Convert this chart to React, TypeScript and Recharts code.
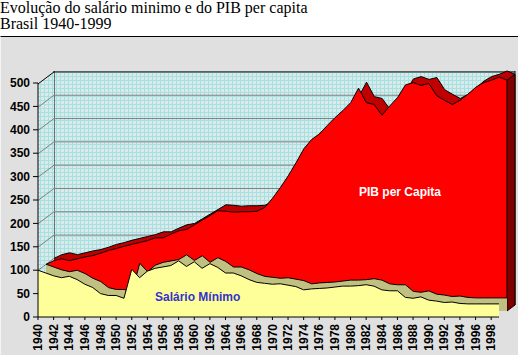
import React from 'react';
import { AreaChart, Area, XAxis, YAxis, CartesianGrid, ReferenceArea, ReferenceLine } from 'recharts';

const years = [
  1940, 1941, 1942, 1943, 1944, 1945, 1946, 1947, 1948, 1949,
  1950, 1951, 1952, 1953, 1954, 1955, 1956, 1957, 1958, 1959,
  1960, 1961, 1962, 1963, 1964, 1965, 1966, 1967, 1968, 1969,
  1970, 1971, 1972, 1973, 1974, 1975, 1976, 1977, 1978, 1979,
  1980, 1981, 1982, 1983, 1984, 1985, 1986, 1987, 1988, 1989,
  1990, 1991, 1992, 1993, 1994, 1995, 1996, 1997, 1998, 1999,
];

// índice 1940 = 100
const salarioMinimo = [
  100, 94, 88, 84, 87, 80, 70, 63, 50, 46,
  46, 40, 102, 84, 98, 104, 107, 110, 120, 108,
  118, 104, 114, 106, 94, 94, 88, 80, 74, 72,
  70, 71, 68, 65, 58, 60, 61, 62, 64, 66,
  66, 67, 69, 66, 58, 56, 56, 42, 40, 43,
  36, 34, 31, 32, 29, 28, 28, 28, 28, 28,
];

const pibPerCapita = [
  100, 108, 112, 108, 112, 116, 119, 124, 130, 134,
  139, 143, 147, 151, 157, 157, 165, 172, 175, 185,
  195, 205, 215, 214, 212, 213, 213, 214, 222, 242,
  265, 290, 318, 348, 368, 380, 398, 415, 430, 447,
  478, 447, 443, 420, 440, 458, 485, 490, 484, 488,
  462, 452, 443, 452, 465, 480, 490, 495, 502, 495,
];

const yTicks = [0, 50, 100, 150, 200, 250, 300, 350, 400, 450, 500];
const xTicks = [
  1940, 1942, 1944, 1946, 1948, 1950, 1952, 1954, 1956, 1958,
  1960, 1962, 1964, 1966, 1968, 1970, 1972, 1974, 1976, 1978,
  1980, 1982, 1984, 1986, 1988, 1990, 1992, 1994, 1996, 1998,
];

const data = years.map((year, i) => ({ year, salario: salarioMinimo[i], pib: pibPerCapita[i] }));

const W = 518;
const H = 355;
const MARGIN = { top: 83, right: 19, left: 38, bottom: 38 };
const WALL_MARGIN = { top: 83, right: 19, left: 0, bottom: 38 };
const PLOT_W = W - MARGIN.left - MARGIN.right;
const PLOT_H = H - MARGIN.top - MARGIN.bottom;
// 3D depth of the whole chart and of one series row
const DEPTH = { dx: 16, dy: -12 };
const HALF = { dx: 8, dy: -6 };
const SANS = '"Liberation Sans", Arial, sans-serif';

const hiddenAxes = () => [
  <XAxis key="x" dataKey="year" type="number" domain={[1940, 1999]} hide />,
  <YAxis key="y" type="number" domain={[0, 500]} ticks={yTicks} hide />,
];

// the wall layers get an empty series so the axes build their ticks
const ghostArea = () => (
  <Area type="linear" dataKey="pib" fill="none" stroke="none" dot={false} activeDot={false} isAnimationActive={false} />
);

const wallYAxis = (tick: any) => (
  <YAxis
    type="number"
    domain={[0, 500]}
    ticks={yTicks}
    interval={0}
    width={MARGIN.left}
    tickSize={0}
    tickMargin={0}
    axisLine={false}
    tickLine={false}
    tick={tick}
  />
);

// left wall, drawn from the top tick of the back plane
const SideWallTick = (props: any) => {
  const { x, y, payload } = props;
  if (payload.value !== 500) return <g />;
  const pts = `${x - DEPTH.dx},${y - DEPTH.dy} ${x},${y} ${x},${y + PLOT_H} ${x - DEPTH.dx},${y + PLOT_H - DEPTH.dy}`;
  return <polygon points={pts} fill="url(#wallGrid)" stroke="none" />;
};

// gridline on the back wall plus its run down the left wall
const WallTick = (props: any) => {
  const { x, y, payload } = props;
  if (payload.value === 0) return <g />;
  const top = payload.value === 500;
  return (
    <path
      d={`M${x - DEPTH.dx},${y - DEPTH.dy}L${x},${y}L${x + PLOT_W},${y}`}
      stroke={top ? '#000' : '#808080'}
      strokeWidth={1}
      fill="none"
    />
  );
};

const RedSide = (props: any) => {
  const { x, y, width, height } = props;
  const r = x + width;
  const pts = `${r},${y} ${r + HALF.dx},${y + HALF.dy} ${r + HALF.dx},${y + height + HALF.dy} ${r},${y + height}`;
  return <polygon points={pts} fill="#800000" stroke="#000" strokeWidth={1} />;
};

const YearTick = (props: any) => {
  const { x, y, payload } = props;
  return (
    <text
      x={x}
      y={y}
      transform={`rotate(-90, ${x}, ${y})`}
      textAnchor="end"
      dy="0.35em"
      fontSize={12}
      fontWeight="bold"
      fontFamily={SANS}
      fill="#000"
    >
      {payload.value}
    </text>
  );
};

const layer = (dx: number, dy: number): React.CSSProperties => ({ position: 'absolute', left: dx, top: dy });

export default function App() {
  return (
    <div style={{ position: 'absolute', left: 0, top: 0, width: W, height: H, background: '#fff', overflow: 'hidden' }}>
      <div
        style={{
          position: 'absolute',
          left: 0,
          top: 0,
          fontFamily: '"Liberation Serif", "Times New Roman", serif',
          fontSize: 16,
          lineHeight: '16px',
          color: '#000',
          whiteSpace: 'nowrap',
        }}
      >
        Evolução do salário minimo e do PIB per capita
        <br />
        Brasil 1940-1999
      </div>
      <div
        style={{
          position: 'absolute',
          left: 0,
          top: 36,
          width: W,
          height: H - 36,
          boxSizing: 'border-box',
          background: '#e0e0e0',
          borderTop: '1px solid #000',
          borderLeft: '1px solid #f4f4f4',
        }}
      />

      {/* walls */}
      <div style={layer(DEPTH.dx, DEPTH.dy)}>
        <AreaChart width={W} height={H} data={data} margin={WALL_MARGIN}>
          <defs>
            <pattern id="wallGrid" width={4} height={4} patternUnits="userSpaceOnUse">
              <rect width={4} height={4} fill="#dde8e8" />
              <path d="M0 0.5H4M0.5 0V4" stroke="#a2e2e2" strokeWidth={1} />
            </pattern>
          </defs>
          <CartesianGrid horizontal={false} vertical={false} fill="url(#wallGrid)" fillOpacity={1} />
          <XAxis dataKey="year" type="number" domain={[1940, 1999]} hide />
          {wallYAxis(SideWallTick)}
          {ghostArea()}
          <ReferenceLine x={1940} stroke="#000" />
          <ReferenceLine x={1999} stroke="#000" />
        </AreaChart>
      </div>
      <div style={layer(DEPTH.dx, DEPTH.dy)}>
        <AreaChart width={W} height={H} data={data} margin={WALL_MARGIN}>
          <XAxis dataKey="year" type="number" domain={[1940, 1999]} hide />
          {wallYAxis(WallTick)}
          {ghostArea()}
        </AreaChart>
      </div>

      {/* PIB per capita: back row */}
      <div style={layer(DEPTH.dx, DEPTH.dy)}>
        <AreaChart width={W} height={H} data={data} margin={MARGIN}>
          {hiddenAxes()}
          <Area type="linear" dataKey="pib" fill="#c00000" fillOpacity={1} stroke="#000" strokeWidth={1} dot={false} activeDot={false} isAnimationActive={false} />
        </AreaChart>
      </div>
      <div style={layer(HALF.dx, HALF.dy)}>
        <AreaChart width={W} height={H} data={data} margin={MARGIN}>
          {hiddenAxes()}
          <Area type="linear" dataKey="pib" fill="#ff0000" fillOpacity={1} stroke="#000" strokeWidth={1} dot={false} activeDot={false} isAnimationActive={false} />
          <ReferenceArea x1={1998} x2={1999} y1={0} y2={pibPerCapita[pibPerCapita.length - 1]} shape={RedSide} />
        </AreaChart>
      </div>

      {/* Salário mínimo: front row */}
      <div style={layer(HALF.dx, HALF.dy)}>
        <AreaChart width={W} height={H} data={data} margin={MARGIN}>
          {hiddenAxes()}
          <Area type="linear" dataKey="salario" fill="#c0c080" fillOpacity={1} stroke="#000" strokeWidth={1} dot={false} activeDot={false} isAnimationActive={false} />
        </AreaChart>
      </div>
      <div style={layer(0, 0)}>
        <AreaChart width={W} height={H} data={data} margin={{ top: 83, right: 19, left: 0, bottom: 0 }}>
          <XAxis
            dataKey="year"
            type="number"
            domain={[1940, 1999]}
            ticks={xTicks}
            interval={0}
            height={MARGIN.bottom}
            tickSize={3}
            tickMargin={4}
            axisLine={{ stroke: '#000' }}
            tickLine={{ stroke: '#000' }}
            tick={YearTick}
          />
          <YAxis
            type="number"
            domain={[0, 500]}
            ticks={yTicks}
            interval={0}
            width={MARGIN.left}
            tickSize={5}
            tickMargin={3}
            axisLine={{ stroke: '#000' }}
            tickLine={{ stroke: '#000' }}
            tick={{ fill: '#000', fontSize: 12, fontWeight: 'bold', fontFamily: SANS }}
          />
          <Area type="linear" dataKey="salario" fill="#ffff99" fillOpacity={1} stroke="#000" strokeWidth={1} dot={false} activeDot={false} isAnimationActive={false} />
        </AreaChart>
      </div>

      <div style={{ position: 'absolute', left: 359, top: 185, color: '#fff', fontFamily: SANS, fontSize: 12, fontWeight: 'bold', lineHeight: '14px', whiteSpace: 'nowrap' }}>
        PIB per Capita
      </div>
      <div style={{ position: 'absolute', left: 155, top: 290, color: '#3333cc', fontFamily: SANS, fontSize: 12, fontWeight: 'bold', lineHeight: '14px', whiteSpace: 'nowrap' }}>
        Salário Mínimo
      </div>
    </div>
  );
}
